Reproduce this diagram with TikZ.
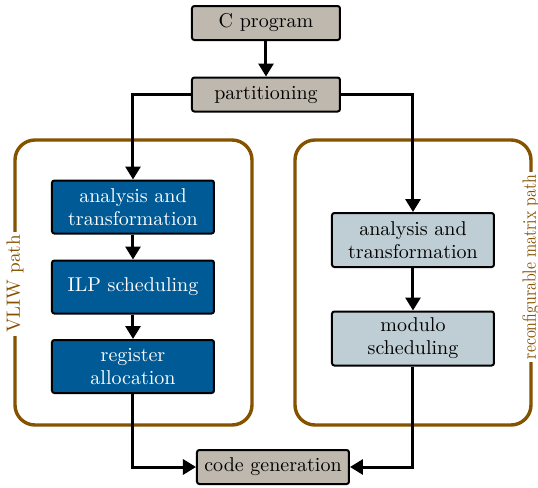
\documentclass[tikz,border=0pt]{standalone}
\usetikzlibrary{arrows.meta}
\definecolor{boxgrey}{RGB}{190,184,174}
\definecolor{boxblue}{RGB}{0,90,150}
\definecolor{boxlight}{RGB}{191,206,212}
\definecolor{pathbrown}{RGB}{133,82,0}
\begin{document}
\begin{tikzpicture}[x=0.5pt,y=-0.5pt,
  box/.style={draw=black, line width=1pt, rounded corners=1.2pt, align=center, inner sep=1pt, font=\fontsize{10}{11.5}\selectfont},
  greybox/.style={box, fill=boxgrey, minimum width=74pt, minimum height=17pt},
  bluebox/.style={box, fill=boxblue, text=white, minimum width=81pt, minimum height=26.5pt},
  lightbox/.style={box, fill=boxlight, minimum width=81pt, minimum height=27pt},
  frame/.style={draw=pathbrown, line width=1.7pt, rounded corners=10pt},
  framelabel/.style={fill=white, text=pathbrown, inner sep=1.5pt, rotate=90, font=\fontsize{9.6}{11}\selectfont},
  arr/.style={line width=1.5pt, -{Triangle[width=7.5pt,length=6.5pt]}}
]
\useasboundingbox (0,0) rectangle (538,488);
% frames
\draw[frame] (15,140) rectangle (252,425);
\draw[frame] (295,140) rectangle (531,425);
\node[framelabel] (vliw) at (15,284) {VLIW path};
\node[framelabel] (rmp) at (531,267) {\scalebox{0.82}[1]{reconfigurable matrix path}};
% nodes
\node[greybox] (cprog) at (266,23) {C program};
\node[greybox] (part) at (266,94.5) {partitioning};
\node[bluebox] (la1) at (133,207) {analysis and\\transformation};
\node[bluebox] (la2) at (133,287) {ILP scheduling};
\node[bluebox] (la3) at (133,366.5) {register\\allocation};
\node[lightbox] (ra1) at (413,240) {analysis and\\transformation};
\node[lightbox] (ra2) at (413,338.5) {modulo\\scheduling};
\node[greybox, minimum width=76pt] (cg) at (273,467) {code generation};
% connectors
\draw[arr] (cprog) -- (part);
\draw[arr] (part.west) -| (la1.north);
\draw[arr] (part.east) -| (ra1.north);
\draw[arr] (la1) -- (la2);
\draw[arr] (la2) -- (la3);
\draw[arr] (ra1) -- (ra2);
\draw[arr] (la3.south) |- (cg.west);
\draw[arr] (ra2.south) |- (cg.east);
\end{tikzpicture}
\end{document}
